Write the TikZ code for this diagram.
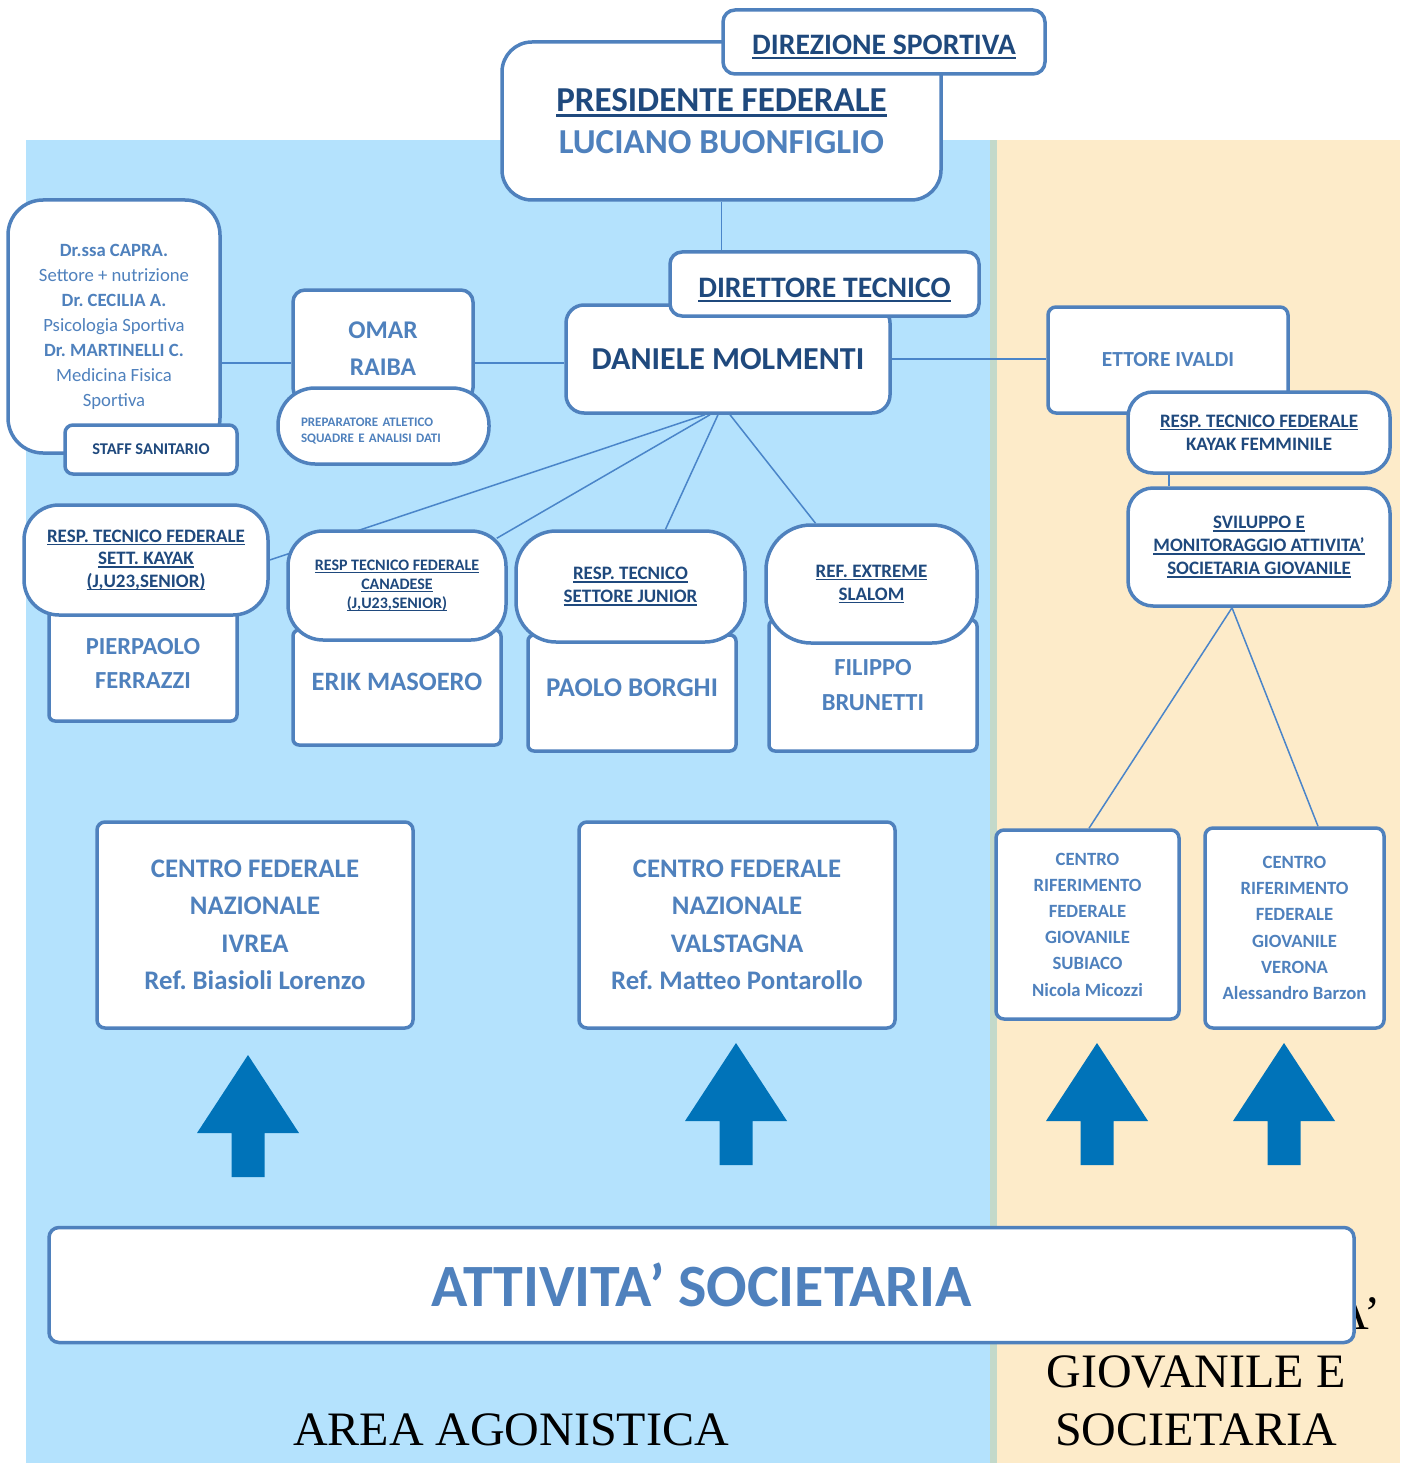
\documentclass[tikz,border=0pt]{standalone}
\usepackage{fontspec}
\setmainfont{Carlito}
\newfontfamily\timesfont{Liberation Serif}
\usetikzlibrary{backgrounds}
\frenchspacing

\definecolor{darkblue}{HTML}{1F497D}
\definecolor{midblue}{HTML}{4F81BD}
\definecolor{boxblue}{HTML}{4F81BD}
\definecolor{lineblue}{HTML}{4A85C9}
\definecolor{areablue}{HTML}{B4E2FD}
\definecolor{areabeige}{HTML}{FDEBC9}
\definecolor{stripgreen}{HTML}{C3D9CA}
\definecolor{arrowblue}{HTML}{0073B9}

\newcommand{\fsz}[2]{\fontsize{#1}{#2}\selectfont}
\newsavebox{\ulbox}
\newcommand{\undl}[1]{\sbox{\ulbox}{#1}\rlap{\rule[-0.15em]{\wd\ulbox}{0.07em}}\usebox{\ulbox}}
\newcommand{\nudge}[2]{\raisebox{#1}[\height][\depth]{#2}}

\tikzset{
  orgbox/.style={draw=boxblue, line width=3.5pt, fill=white, rounded corners=#1, inner sep=0pt, align=center},
  orgbox/.default=8pt,
  link/.style={draw=lineblue, line width=1.5pt}
}

\begin{document}
\begin{tikzpicture}[x=1pt,y=-1pt]
\useasboundingbox (0,0) rectangle (1407,1463);

\node[orgbox=30pt, minimum width=439pt, minimum height=158pt, font=\bfseries\fsz{35}{42}] (pres) at (721.5,121) {\textcolor{darkblue}{\undl{PRESIDENTE FEDERALE}}\\ \textcolor{midblue}{LUCIANO BUONFIGLIO}};
\node[orgbox=12pt, minimum width=322pt, minimum height=64pt, text=darkblue, font=\bfseries\fsz{29.7}{35}] (dirsport) at (884,42) {\nudge{-5pt}{\undl{DIREZIONE SPORTIVA}}};
\node[orgbox=18pt, minimum width=324pt, minimum height=108pt, text=darkblue, font=\bfseries\fsz{32}{38}] (molmenti) at (728,359) {DANIELE MOLMENTI};
\node[orgbox=12pt, minimum width=309pt, minimum height=64pt, text=darkblue, font=\bfseries\fsz{29.7}{35}] (dirtec) at (824.5,284) {\nudge{-6pt}{\undl{DIRETTORE TECNICO}}};

\node[orgbox=35pt, minimum width=212pt, minimum height=253pt, text=midblue, font=\fsz{18.7}{25}] (staff) at (114,326.5) {\textbf{Dr.ssa CAPRA.}\\ Settore + nutrizione\\ \textbf{Dr. CECILIA A.}\\ Psicologia Sportiva\\ \textbf{Dr. MARTINELLI C.}\\ Medicina Fisica\\ Sportiva};
\node[orgbox=8pt, minimum width=172pt, minimum height=49pt, text=darkblue, font=\bfseries\fsz{16.4}{19}] (sanitario) at (151,449.5) {STAFF SANITARIO};
\node[orgbox=12pt, minimum width=180pt, minimum height=110pt, text=midblue, font=\bfseries\fsz{25.5}{37}] (raiba) at (383,345) {\nudge{-4pt}{OMAR}\\ \nudge{-4pt}{RAIBA}};
\node[orgbox=37pt, minimum width=211pt, minimum height=76pt, text=midblue, font=\bfseries\fsz{13}{16}, text width=165pt, align=left] (prep) at (383.5,426) {\nudge{-5pt}{PREPARATORE ATLETICO}\\ \nudge{-5pt}{SQUADRE E ANALISI DATI}};

\node[orgbox=8pt, minimum width=240pt, minimum height=106pt, text=midblue, font=\bfseries\fsz{21.5}{25}] (ivaldi) at (1168,360) {ETTORE IVALDI};
\node[orgbox=25pt, minimum width=262pt, minimum height=81pt, text=darkblue, font=\bfseries\fsz{19}{23}] (femminile) at (1259,432.5) {\undl{RESP. TECNICO FEDERALE}\\ KAYAK FEMMINILE};
\node[orgbox=25pt, minimum width=262pt, minimum height=118pt, text=darkblue, font=\bfseries\fsz{19}{23}] (sviluppo) at (1259,547) {\undl{SVILUPPO E}\\ \undl{MONITORAGGIO ATTIVITA’}\\ \undl{SOCIETARIA GIOVANILE}};

\node[orgbox=6pt, minimum width=188pt, minimum height=115pt, text=midblue, font=\bfseries\fsz{24.5}{34}] (ferrazzi) at (143,663.5) {PIERPAOLO\\ FERRAZZI};
\node[orgbox=35pt, minimum width=244pt, minimum height=110pt, text=darkblue, font=\bfseries\fsz{19}{22.5}] (kayak) at (146,560) {\undl{RESP. TECNICO FEDERALE}\\ \undl{SETT. KAYAK}\\ \undl{(J,U23,SENIOR)}};
\node[orgbox=6pt, minimum width=208pt, minimum height=115pt, text=midblue, font=\bfseries\fsz{26.5}{32}] (masoero) at (397,687.5) {\nudge{6pt}{ERIK MASOERO}};
\node[orgbox=35pt, minimum width=218pt, minimum height=109pt, text=darkblue, font=\bfseries\fsz{16}{19}] (canadese) at (397,585.5) {\undl{RESP TECNICO FEDERALE}\\ \undl{CANADESE}\\ \undl{(J,U23,SENIOR)}};
\node[orgbox=6pt, minimum width=208pt, minimum height=116pt, text=midblue, font=\bfseries\fsz{27}{32}] (borghi) at (632,693) {\nudge{5pt}{PAOLO BORGHI}};
\node[orgbox=40pt, minimum width=229pt, minimum height=111pt, text=darkblue, font=\bfseries\fsz{19}{23}] (junior) at (630.5,586.5) {\undl{RESP. TECNICO}\\ \undl{SETTORE JUNIOR}};
\node[orgbox=6pt, minimum width=208pt, minimum height=131pt, text=midblue, font=\bfseries\fsz{24.5}{35}] (brunetti) at (873,685.5) {FILIPPO\\ BRUNETTI};
\node[orgbox=45pt, minimum width=211pt, minimum height=118pt, text=darkblue, font=\bfseries\fsz{19}{23}] (slalom) at (871.5,584) {\undl{REF. EXTREME}\\ \undl{SLALOM}};

\node[orgbox=8pt, minimum width=316pt, minimum height=206pt, text=midblue, font=\bfseries\fsz{26.8}{37.5}] (ivrea) at (255,925) {CENTRO FEDERALE\\ NAZIONALE\\ IVREA\\ Ref. Biasioli Lorenzo};
\node[orgbox=8pt, minimum width=316pt, minimum height=206pt, text=midblue, font=\bfseries\fsz{26.8}{37.5}] (valstagna) at (737,925) {CENTRO FEDERALE\\ NAZIONALE\\ VALSTAGNA\\ Ref. Matteo Pontarollo};
\node[orgbox=8pt, minimum width=183pt, minimum height=189pt, text=midblue, font=\bfseries\fsz{18.7}{26.2}] (subiaco) at (1087.5,924.5) {CENTRO\\ RIFERIMENTO\\ FEDERALE\\ GIOVANILE\\ SUBIACO\\ Nicola Micozzi};
\node[orgbox=8pt, minimum width=179pt, minimum height=200pt, text=midblue, font=\bfseries\fsz{18.7}{26.2}] (verona) at (1294.5,928) {CENTRO\\ RIFERIMENTO\\ FEDERALE\\ GIOVANILE\\ VERONA\\ Alessandro Barzon};

\foreach \ax/\ay in {248/1055, 736/1043, 1097/1043, 1284/1043}
  \fill[arrowblue] (\ax,\ay) -- ++(51,78) -- ++(-34.5,0) -- ++(0,44) -- ++(-33,0) -- ++(0,-44) -- ++(-34.5,0) -- cycle;

\node[font=\timesfont\fsz{48}{58}, align=center] (giovlabel) at (1196,1372) {AREA ATTIVITA’\\ GIOVANILE E\\ SOCIETARIA};
\node[font=\timesfont\fsz{48}{58}] (agolabel) at (511,1430) {AREA AGONISTICA};
\node[orgbox=10pt, minimum width=1305pt, minimum height=115pt, text=midblue, font=\bfseries\fsz{60}{64}] (societaria) at (701.5,1285) {ATTIVITA’ SOCIETARIA};

\begin{scope}[on background layer]
\fill[areablue] (26,140) rectangle (990,1463);
\fill[stripgreen] (990,140) rectangle (997,1463);
\fill[areabeige] (997,140) rectangle (1400,1463);
\coordinate (lvl) at (0,363);
\draw[link] (pres.south) -- (pres.south |- dirtec.north);
\draw[link] (staff.east |- lvl) -- (raiba.west |- lvl);
\draw[link] (raiba.east |- lvl) -- (molmenti.west |- lvl);
\draw[link] (molmenti.east) -- (molmenti.east -| ivaldi.west);
\draw[link] ([xshift=-90pt]femminile.south) -- ([xshift=-90pt]sviluppo.north);
\draw[link] ([xshift=-27pt]sviluppo.south) -- ([xshift=1.5pt]subiaco.north);
\draw[link] ([xshift=-27pt]sviluppo.south) -- ([xshift=23.5pt]verona.north);
\draw[link] ([xshift=-23pt]molmenti.south) -- (kayak.east);
\draw[link] ([xshift=-18pt]molmenti.south) -- ([xshift=-11pt,yshift=-9pt]canadese.north east);
\draw[link] ([xshift=-10pt]molmenti.south) -- ([xshift=35pt]junior.north);
\draw[link] ([xshift=2pt]molmenti.south) -- ([xshift=-56pt]slalom.north);
\end{scope}
\end{tikzpicture}
\end{document}
